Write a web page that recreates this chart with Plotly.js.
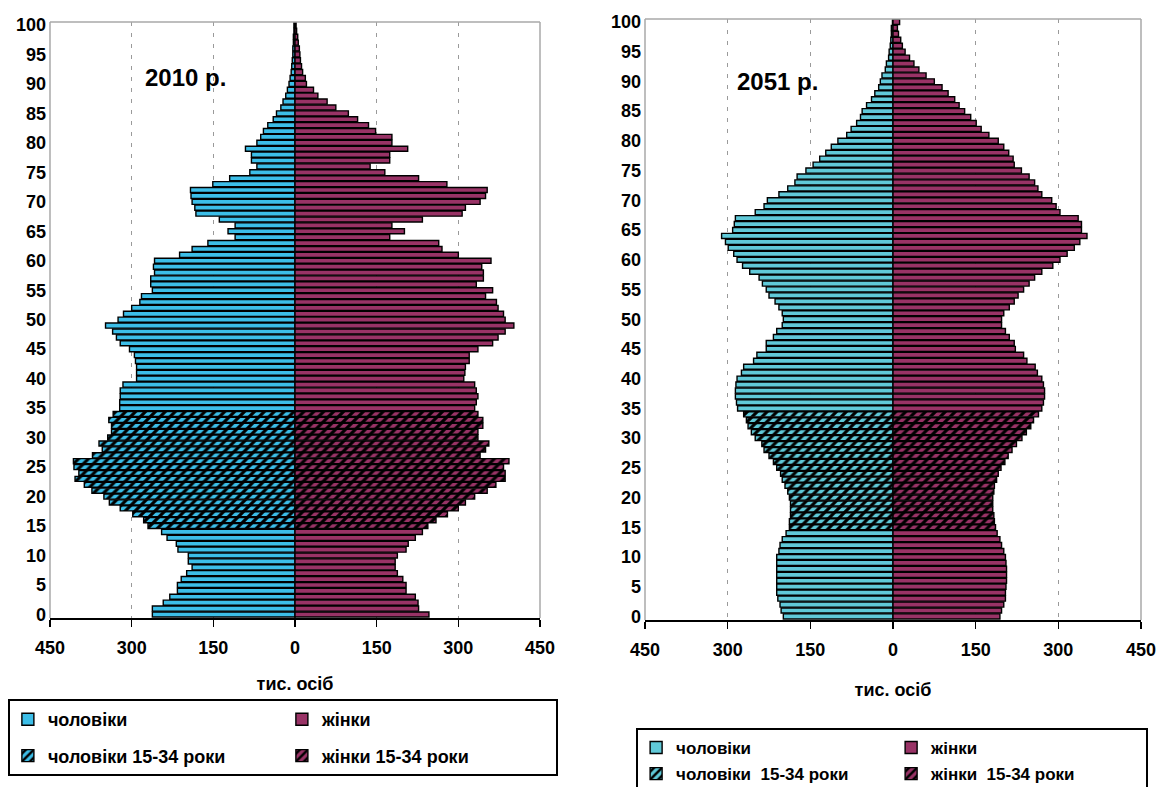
<!DOCTYPE html>
<html>
<head>
<meta charset="utf-8">
<script src="https://cdn.plot.ly/plotly-3.0.1.min.js"></script>
<style>
html,body{margin:0;padding:0;background:#fff;}
#chart{width:1161px;height:787px;}
</style>
</head>
<body>
<div id="chart"></div>
<script>
// ---------- data ----------
const ages = [0,1,2,3,4,5,6,7,8,9,10,11,12,13,14,15,16,17,18,19,20,21,22,23,24,25,26,27,28,29,30,
  31,32,33,34,35,36,37,38,39,40,41,42,43,44,45,46,47,48,49,50,51,52,53,54,55,56,57,58,59,60,
  61,62,63,64,65,66,67,68,69,70,71,72,73,74,75,76,77,78,79,80,81,82,83,84,85,86,87,88,89,90,
  91,92,93,94,95,96,97,98,99,100];

// 2010, thousand persons, ages 0..100
const men2010 = [262,262,242,230,216,216,209,199,189,196, 196,215,218,235,245,270,278,298,321,341,
  351,373,387,404,397,406,407,372,354,360, 344,337,337,342,334,322,322,321,321,316,
  291,291,291,293,295,304,321,328,335,348, 325,315,300,285,282,262,265,265,258,260,
  258,212,189,160,110,123,110,139,182,184, 189,191,192,151,120,83,70,80,80,91,
  70,63,58,50,40,34,26,22,17,14, 11,9,7,6,5,4,4,3,3,2, 2];
const women2010 = [246,227,226,221,204,204,198,188,184,184, 188,204,208,221,234,244,259,280,300,313,
  330,353,369,386,386,383,393,340,350,356, 336,336,345,345,336,330,333,336,333,330,
  310,312,313,320,320,336,363,373,386,402, 386,383,373,370,350,363,333,346,346,343,
  360,300,270,264,174,201,178,234,307,313, 340,350,353,279,227,165,138,174,174,207,
  178,178,148,135,115,98,75,59,42,34, 21,19,14,12,10,9,8,6,5,3, 2];

// 2051 (projection), thousand persons, ages 0..100
const men2051 = [199,203,205,209,211,211,211,211,211,211, 211,207,205,201,194,188,188,186,186,186,
  188,191,196,201,204,211,217,225,234,238, 250,257,263,266,271,282,284,286,286,285,
  283,275,271,253,247,230,230,217,211,201, 199,201,207,214,225,230,237,243,260,273,
  283,289,299,304,311,291,288,286,250,234, 228,207,191,178,174,158,145,133,122,112,
  100,84,76,66,59,56,48,39,33,26, 23,20,14,12,8,7,5,4,3,3, 1];
const women2051 = [194,197,201,204,204,205,206,206,206,205, 204,201,197,194,189,186,184,183,181,181,
  181,183,184,188,191,196,203,209,216,224, 234,242,250,255,264,270,273,275,275,273,
  270,262,258,243,237,222,220,211,204,197, 197,201,211,220,227,237,247,257,270,290,
  303,316,329,339,352,342,342,336,303,296, 288,270,263,257,247,233,220,218,210,201,
  191,174,160,151,141,130,120,112,100,89, 75,60,47,38,30,22,17,14,10,8, 12];

const youthFrom = 15, youthTo = 34;
const seriesNames = ['чоловіки', 'жінки', 'чоловіки\u00a015-34 роки', 'жінки\u00a015-34 роки'];
const seriesNames2 = ['чоловіки', 'жінки', 'чоловіки\u00a0 15-34 роки', 'жінки\u00a0 15-34 роки'];
const chartTitles = ['2010 р.', '2051 р.'];
const xTickVals = [-450, -300, -150, 0, 150, 300, 450];
const xTickText = ['450', '300', '150', '0', '150', '300', '450'];
const yTickVals = [0,5,10,15,20,25,30,35,40,45,50,55,60,65,70,75,80,85,90,95,100];
const axisTitle = 'тис. осіб';

// ---------- styling ----------
const FONT = 'Liberation Sans, Arial, sans-serif';
const maroon = '#993366';
const blue2010 = '#3cbee8';
const blue2051 = '#60c9d8';

function part(values, sign, youth) {
  return values.map((v, i) => {
    const inY = ages[i] >= youthFrom && ages[i] <= youthTo;
    return inY === youth ? sign * v : null;
  });
}

function makeTraces(men, women, blue, ax, legendId, names, tag) {
  const base = {
    type: 'bar', orientation: 'h', y: ages,
    xaxis: 'x' + ax, yaxis: 'y' + ax, legend: legendId,
    hoverinfo: 'skip'
  };
  const line = {color: '#000', width: 1.4};
  return [
    Object.assign({}, base, {name: names[0], legendgroup: tag + 'm', x: part(men, -1, false),
      marker: {color: blue, line: line}}),
    Object.assign({}, base, {name: names[1], legendgroup: tag + 'w', x: part(women, 1, false),
      marker: {color: maroon, line: line}}),
    Object.assign({}, base, {name: names[2], legendgroup: tag + 'my', x: part(men, -1, true),
      marker: {color: blue, line: line,
        pattern: {shape: '/', fillmode: 'replace', fgcolor: '#000', bgcolor: blue, size: 7, solidity: 0.45}}}),
    Object.assign({}, base, {name: names[3], legendgroup: tag + 'wy', x: part(women, 1, true),
      marker: {color: maroon, line: line,
        pattern: {shape: '/', fillmode: 'replace', fgcolor: '#000', bgcolor: maroon, size: 7, solidity: 0.45}}})
  ];
}

const data = [].concat(
  makeTraces(men2010, women2010, blue2010, '', 'legend', seriesNames, 'a'),
  makeTraces(men2051, women2051, blue2051, '2', 'legend2', seriesNames2, 'b')
);

const W = 1161, H = 787, ML = 8, MR = 13;
const GW = W - ML - MR;
function px2x(p) { return (p - ML) / GW; }
function px2y(p) { return 1 - p / H; }

function xAxis(l, r, standoff) {
  return {
    domain: [px2x(l), px2x(r)], range: [-450, 450], fixedrange: true,
    tickvals: xTickVals, ticktext: xTickText,
    ticks: 'outside', ticklen: 7, tickwidth: 1.5, tickcolor: '#000',
    showline: true, linecolor: '#000', linewidth: 1.5,
    showgrid: true, gridcolor: '#9a9a9a', gridwidth: 1.5, griddash: '4px,7px',
    zeroline: false,
    tickfont: {family: FONT, size: 18, color: '#000', weight: 700},
    ticklabelstandoff: 6,
    title: {text: axisTitle, standoff: standoff, font: {family: FONT, size: 18, color: '#000', weight: 700}}
  };
}
function yAxis(top, bottom, anchor) {
  return {
    domain: [px2y(bottom), px2y(top)], range: [-0.6, 100.5], anchor: anchor,
    tickvals: yTickVals, ticks: '', showgrid: false, zeroline: false, showline: false,
    tickfont: {family: FONT, size: 18, color: '#000', weight: 700},
    ticklabelstandoff: 3, fixedrange: true
  };
}

function frame(ax) {
  const c = {color: '#a8a8a8', width: 1.5};
  const xr = 'x' + ax + ' domain', yr = 'y' + ax + ' domain';
  return [
    {type: 'line', xref: xr, yref: yr, x0: 0, x1: 1, y0: 1, y1: 1, line: c},
    {type: 'line', xref: xr, yref: yr, x0: 0, x1: 0, y0: 0, y1: 1, line: c},
    {type: 'line', xref: xr, yref: yr, x0: 1, x1: 1, y0: 0, y1: 1, line: c}
  ];
}

const legendFont = {family: FONT, size: 18, color: '#000', weight: 700};
const legendFont2 = {family: FONT, size: 17, color: '#000', weight: 700};

const layout = {
  width: W, height: H,
  margin: {l: ML, r: MR, t: 0, b: 0, autoexpand: false},
  paper_bgcolor: '#fff', plot_bgcolor: '#fff',
  barmode: 'overlay', bargap: 0.14,
  showlegend: true,
  xaxis: xAxis(50, 540, 20),
  yaxis: yAxis(22, 618, 'x'),
  xaxis2: Object.assign(xAxis(645, 1141, 24), {anchor: 'y2'}),
  yaxis2: yAxis(19, 620, 'x2'),
  legend: {
    orientation: 'h', x: -0.0001, xanchor: 'left', y: px2y(699), yanchor: 'top',
    traceorder: 'grouped', tracegroupgap: 10, entrywidth: 229,
    bordercolor: '#000', borderwidth: 2, bgcolor: '#fff', font: legendFont
  },
  legend2: {
    orientation: 'h', x: 1.0001, xanchor: 'right', y: px2y(728), yanchor: 'top',
    traceorder: 'grouped', tracegroupgap: 1, entrywidth: 210,
    bordercolor: '#000', borderwidth: 2, bgcolor: '#fff', font: legendFont2
  },
  annotations: [
    {xref: 'x', yref: 'y', x: -202, y: 91, text: chartTitles[0], showarrow: false,
     font: {family: FONT, size: 24, color: '#000', weight: 700}},
    {xref: 'x2', yref: 'y2', x: -210, y: 90, text: chartTitles[1], showarrow: false,
     font: {family: FONT, size: 24, color: '#000', weight: 700}}
  ],
  shapes: [].concat(frame(''), frame('2'))
};

Plotly.newPlot('chart', data, layout, {staticPlot: true, displayModeBar: false});
</script>
</body>
</html>
